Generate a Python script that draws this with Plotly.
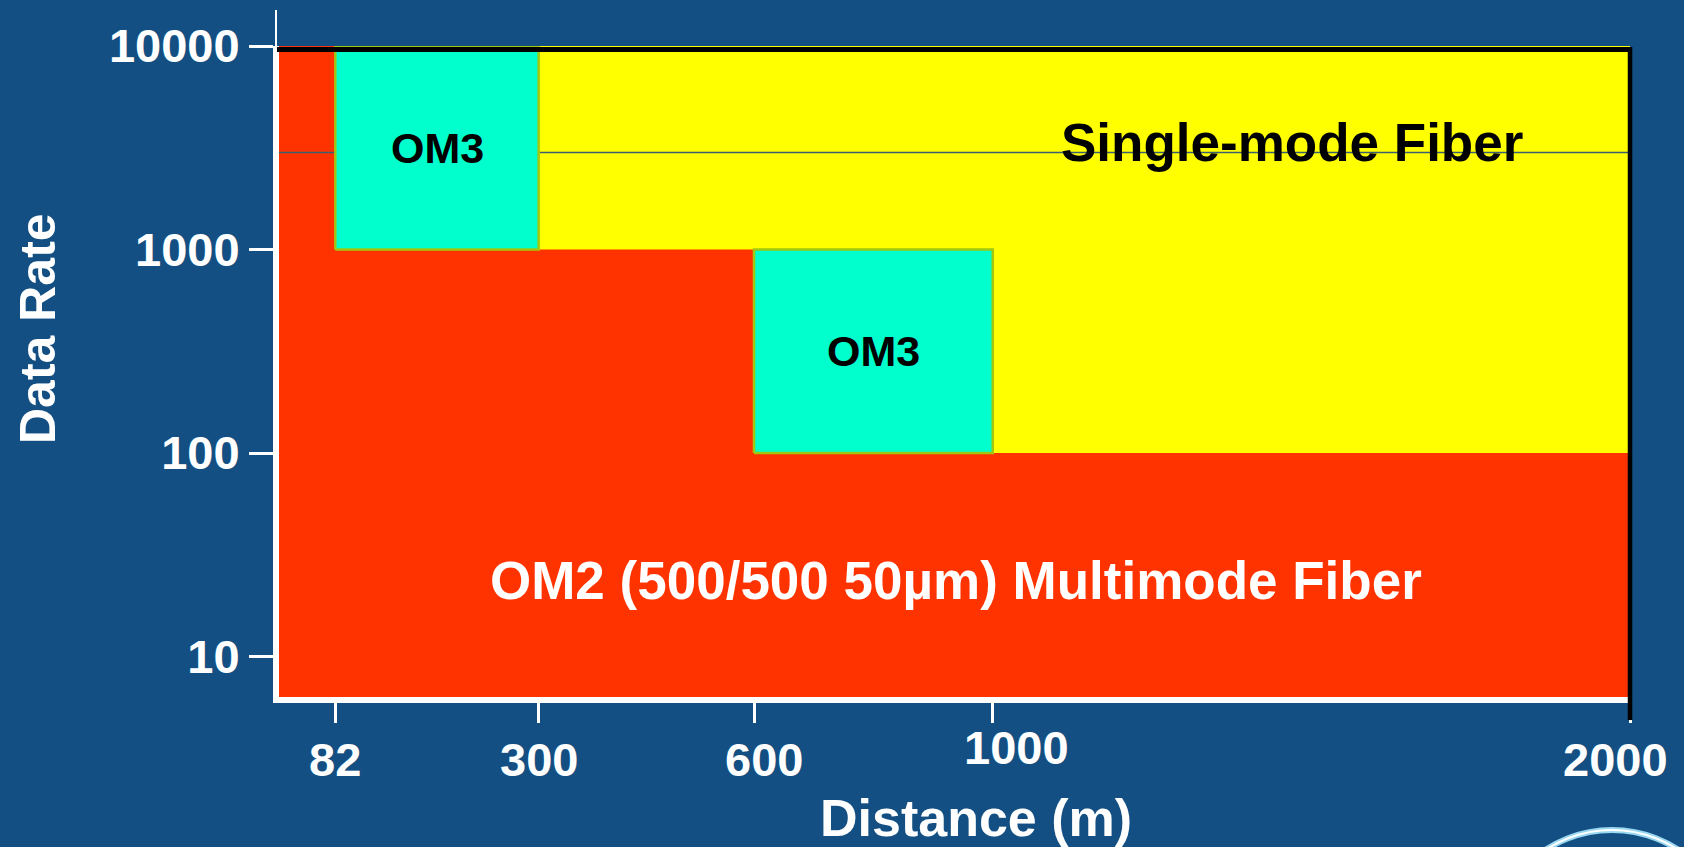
import numpy as np
import plotly.graph_objects as go

# ---- data -------------------------------------------------------------
# distance axis (m) and its labels
dist_ticks = [82, 300, 600, 1000, 2000]
dist_labels = ["82", "300", "600", "1000", "2000"]

# data-rate axis (log) and its labels
rate_ticks = [10, 100, 1000, 10000]
rate_labels = ["10", "100", "1000", "10000"]

max_distance = 2000
rate_floor = 6.3
max_rate = 10000

# OM2 multimode reach per data-rate band
om2_band_low = [6.3, 100, 1000]
om2_band_high = [100, 1000, 10000]
om2_reach = [2000, 600, 82]

# OM3 extension zones
om3_dist_from = [82, 600]
om3_dist_to = [300, 1000]
om3_rate_from = [1000, 100]
om3_rate_to = [10000, 1000]

# thin reference line across the chart
ref_rate = 3000

# ---- stretched distance scale ----------------------------------------
scale_dist = [0, 82, 300, 600, 1000, 2000]
scale_pos = [0.0, 0.0417, 0.1922, 0.3516, 0.5283, 1.0]


def xpos(d):
    return np.interp(d, scale_dist, scale_pos)


BG = "#134F82"
RED = "#FF3300"
YELLOW = "#FFFF00"
CYAN = "#00FFCC"
EDGE = "#9FC80F"
FONT = "Liberation Sans, Arial, sans-serif"

fig = go.Figure()

# single-mode fiber fills the whole chart area
fig.add_trace(go.Scatter(
    x=xpos([0, max_distance, max_distance, 0, 0]),
    y=[rate_floor, rate_floor, max_rate, max_rate, rate_floor],
    mode="lines", fill="toself", fillcolor=YELLOW,
    line=dict(width=0, color=YELLOW), hoverinfo="skip", showlegend=False))

# OM2 staircase
px_, py_ = [0], [om2_band_low[0]]
for lo, hi, reach in zip(om2_band_low, om2_band_high, om2_reach):
    px_ += [reach, reach]
    py_ += [lo, hi]
px_ += [0, 0]
py_ += [om2_band_high[-1], om2_band_low[0]]
fig.add_trace(go.Scatter(
    x=xpos(px_), y=py_, mode="lines", fill="toself", fillcolor=RED,
    line=dict(width=0, color=RED), hoverinfo="skip", showlegend=False))

# reference line
fig.add_trace(go.Scatter(
    x=xpos([0, max_distance]), y=[ref_rate, ref_rate], mode="lines",
    line=dict(width=1.5, color="#3A5F73"), hoverinfo="skip", showlegend=False))

# OM3 boxes
for d0, d1, r0, r1 in zip(om3_dist_from, om3_dist_to, om3_rate_from, om3_rate_to):
    fig.add_trace(go.Scatter(
        x=xpos([d0, d1, d1, d0, d0]), y=[r0, r0, r1, r1, r0],
        mode="lines", fill="toself", fillcolor=CYAN,
        line=dict(width=2.5, color=EDGE), hoverinfo="skip", showlegend=False))

W, H = 1684, 847
L, R, T, B = 279, 54, 46, 150
PW, PH = W - L - R, H - T - B


def px2paper_x(px):
    return (px - L) / PW


def px2paper_y(py):
    return (H - B - py) / PH


def label(x, y, text, size, color, **kw):
    d = dict(x=x, y=y, text=text, showarrow=False,
             xanchor="center", yanchor="middle",
             font=dict(family=FONT, size=size, color=color, weight="bold"))
    d.update(kw)
    return d


annotations = []

# OM3 box labels
for d0, d1, r0, r1 in zip(om3_dist_from, om3_dist_to, om3_rate_from, om3_rate_to):
    annotations.append(label(
        (xpos(d0) + xpos(d1)) / 2, (np.log10(r0) + np.log10(r1)) / 2,
        "OM3", 43, "black", xref="x", yref="y"))

annotations.append(label(px2paper_x(1292), px2paper_y(143), "Single-mode Fiber",
                         53, "black", xref="paper", yref="paper"))

annotations.append(label(px2paper_x(956), px2paper_y(580),
                         "OM2 (500/500 50µm) Multimode Fiber",
                         53, "white", xref="paper", yref="paper"))

# distance tick labels
label_dx = [0, 0, 10, 24, -15]
label_dy = [0, 0, 0, 12, 0]
for d, lab, dx, dy in zip(dist_ticks, dist_labels, label_dx, label_dy):
    annotations.append(label(xpos(d), px2paper_y(759), lab, 47, "white",
                             xref="x", yref="paper", xshift=dx, yshift=dy))

annotations.append(label(px2paper_x(976), px2paper_y(818), "Distance (m)",
                         52, "white", xref="paper", yref="paper"))

annotations.append(label(px2paper_x(38), px2paper_y(328), "Data Rate",
                         50, "white", xref="paper", yref="paper", textangle=-90))

shapes = [
    # black frame on top and right
    dict(type="line", xref="paper", yref="paper",
         x0=px2paper_x(277), x1=px2paper_x(1632),
         y0=px2paper_y(49.5), y1=px2paper_y(49.5),
         line=dict(color="black", width=5), layer="above"),
    dict(type="line", xref="paper", yref="paper",
         x0=px2paper_x(1630), x1=px2paper_x(1630),
         y0=px2paper_y(47), y1=px2paper_y(720),
         line=dict(color="black", width=4.5), layer="above"),
    # axis extension above the chart
    dict(type="line", xref="paper", yref="paper",
         x0=px2paper_x(276), x1=px2paper_x(276),
         y0=px2paper_y(10), y1=px2paper_y(46),
         line=dict(color="white", width=2), layer="above"),
    # globe emblem
    dict(type="circle", xref="paper", yref="paper",
         x0=px2paper_x(1612 - 121), x1=px2paper_x(1612 + 121),
         y0=px2paper_y(830), y1=px2paper_y(1072),
         line=dict(color="#9AD8F2", width=6), layer="above"),
    dict(type="circle", xref="paper", yref="paper",
         x0=px2paper_x(1612 - 121), x1=px2paper_x(1612 + 121),
         y0=px2paper_y(830), y1=px2paper_y(1072),
         line=dict(color="white", width=2), layer="above"),
]

fig.update_layout(
    width=W, height=H,
    margin=dict(l=L, r=R, t=T, b=B, pad=0),
    paper_bgcolor=BG, plot_bgcolor=BG,
    showlegend=False,
    annotations=annotations,
    shapes=shapes,
    xaxis=dict(
        range=[0, 1], showgrid=False, zeroline=False,
        showline=True, linecolor="white", linewidth=6,
        ticks="outside", ticklen=20, tickwidth=2.5, tickcolor="white",
        tickvals=list(xpos(dist_ticks)), showticklabels=False,
        fixedrange=True),
    yaxis=dict(
        type="log", range=[0.801, 4.0], showgrid=False, zeroline=False,
        showline=True, linecolor="white", linewidth=6,
        ticks="outside", ticklen=24, tickwidth=3, tickcolor="white",
        tickvals=rate_ticks, ticktext=rate_labels,
        tickfont=dict(family=FONT, size=47, color="white", weight="bold"),
        fixedrange=True),
)

fig.write_html("out.html", config={"displayModeBar": False})
